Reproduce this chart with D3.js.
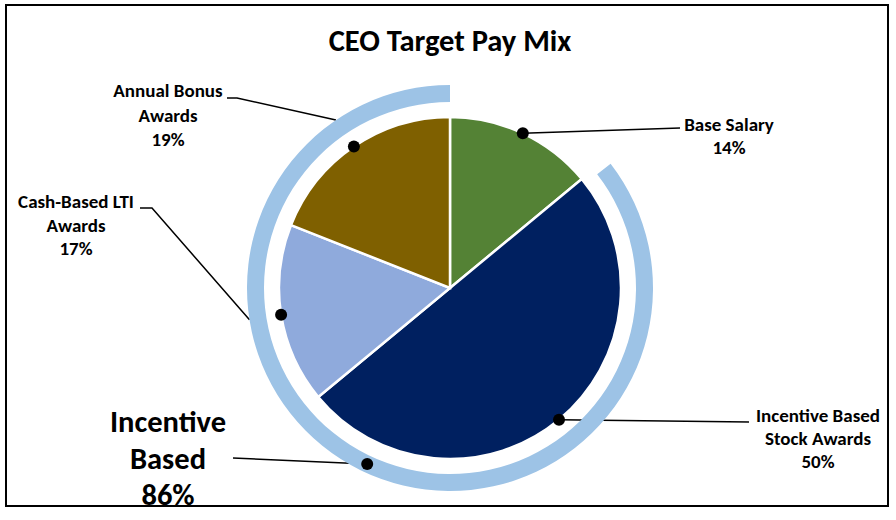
<!DOCTYPE html>
<html>
<head>
<meta charset="utf-8">
<script src="https://cdn.jsdelivr.net/npm/d3@7"></script>
<style>
  body { margin: 0; background: #fff; }
  text { font-family: Carlito, Calibri, Lato, sans-serif; font-weight: bold; fill: #000; }
</style>
</head>
<body>
<script>
// pay mix, clockwise from 12 o'clock
var categories = ["Base Salary", "Incentive Based Stock Awards", "Cash-Based LTI Awards", "Annual Bonus Awards"];
var values = [14, 50, 17, 19];
var labelLines = [["Base Salary", "14%"], ["Incentive Based", "Stock Awards", "50%"], ["Cash-Based LTI", "Awards", "17%"], ["Annual Bonus", "Awards", "19%"]];
// outer ring: fixed part vs incentive part
var ringNames = ["Fixed", "Incentive Based"];
var ringValues = [14, 86];
var ringLines = ["Incentive", "Based", "86%"];

var colors = ["#548235", "#002060", "#8faadc", "#7f6000"];
var ringColor = "#9dc3e6";

var width = 896, height = 520;
var cx = 450, cy = 288;
var rPie = 171, rIn = 186, rOut = 203;

// where each label sits (text anchor x, first baseline y) and the leader elbow
var layout = [
  {x: 729, y: 131, dy: 22.5, end: [[680, 128]], fromRing: false},
  {x: 818, y: 422, dy: 23, end: [[749, 422]], fromRing: false},
  {x: 76, y: 208, dy: 23.5, end: [[152, 208], [140, 208]], fromRing: true},
  {x: 168, y: 97, dy: 24.5, end: [[237, 98], [227, 98]], fromRing: true}
];
var ringLayout = {x: 168, y: 432, dy: 36.5, end: [[233, 458]]};

var svg = d3.select("body").append("svg")
  .attr("width", width)
  .attr("height", height);

svg.append("rect")
  .attr("x", 6).attr("y", 5)
  .attr("width", 882).attr("height", 501)
  .attr("fill", "#fff")
  .attr("stroke", "#000")
  .attr("stroke-width", 2);

svg.append("text")
  .attr("x", cx).attr("y", 51)
  .attr("text-anchor", "middle")
  .style("font-size", "30.5px")
  .text("CEO Target Pay Mix");

var g = svg.append("g").attr("transform", "translate(" + cx + "," + cy + ")");

var pie = d3.pie().sort(null).value(function(d) { return d; });
var slices = pie(values);
var ringSlices = pie(ringValues);

var arc = d3.arc().innerRadius(0).outerRadius(rPie);
var edge = d3.arc().innerRadius(rPie).outerRadius(rPie);
var ringArc = d3.arc().innerRadius(rIn).outerRadius(rOut);
var ringMid = d3.arc().innerRadius((rIn + rOut) / 2).outerRadius((rIn + rOut) / 2);
var ringEdge = d3.arc().innerRadius(rOut).outerRadius(rOut);

g.selectAll("path.slice")
  .data(slices)
  .enter()
  .append("path")
  .attr("class", "slice")
  .attr("d", arc)
  .attr("fill", function(d, i) { return colors[i]; })
  .attr("stroke", "#fff")
  .attr("stroke-width", 2.5);

// leader lines go under the ring
var line = d3.line();
slices.forEach(function(d, i) {
  var start = layout[i].fromRing ? ringEdge.centroid(d) : edge.centroid(d);
  var pts = [start].concat(layout[i].end.map(function(p) { return [p[0] - cx, p[1] - cy]; }));
  g.append("path")
    .attr("d", line(pts))
    .attr("fill", "none")
    .attr("stroke", "#000")
    .attr("stroke-width", 1.5);
});
var ringPts = [ringMid.centroid(ringSlices[1])].concat(ringLayout.end.map(function(p) { return [p[0] - cx, p[1] - cy]; }));
g.append("path")
  .attr("d", line(ringPts))
  .attr("fill", "none")
  .attr("stroke", "#000")
  .attr("stroke-width", 1.5);

// only the incentive part of the ring is shown
var pad = 0.033;
g.append("path")
  .attr("d", ringArc({startAngle: ringSlices[1].startAngle + pad, endAngle: ringSlices[1].endAngle}))
  .attr("fill", ringColor);

g.selectAll("circle.dot")
  .data(slices)
  .enter()
  .append("circle")
  .attr("class", "dot")
  .attr("cx", function(d) { return edge.centroid(d)[0]; })
  .attr("cy", function(d) { return edge.centroid(d)[1]; })
  .attr("r", 6)
  .attr("fill", "#000");

g.append("circle")
  .attr("cx", ringMid.centroid(ringSlices[1])[0])
  .attr("cy", ringMid.centroid(ringSlices[1])[1])
  .attr("r", 6)
  .attr("fill", "#000");

layout.forEach(function(l, i) {
  var t = svg.append("text")
    .attr("text-anchor", "middle")
    .style("font-size", "19px");
  labelLines[i].forEach(function(s, k) {
    t.append("tspan").attr("x", l.x).attr("y", l.y + k * l.dy).text(s);
  });
});

var rt = svg.append("text")
  .attr("text-anchor", "middle")
  .style("font-size", "30.5px");
ringLines.forEach(function(s, k) {
  rt.append("tspan").attr("x", ringLayout.x).attr("y", ringLayout.y + k * ringLayout.dy).text(s);
});
</script>
</body>
</html>
